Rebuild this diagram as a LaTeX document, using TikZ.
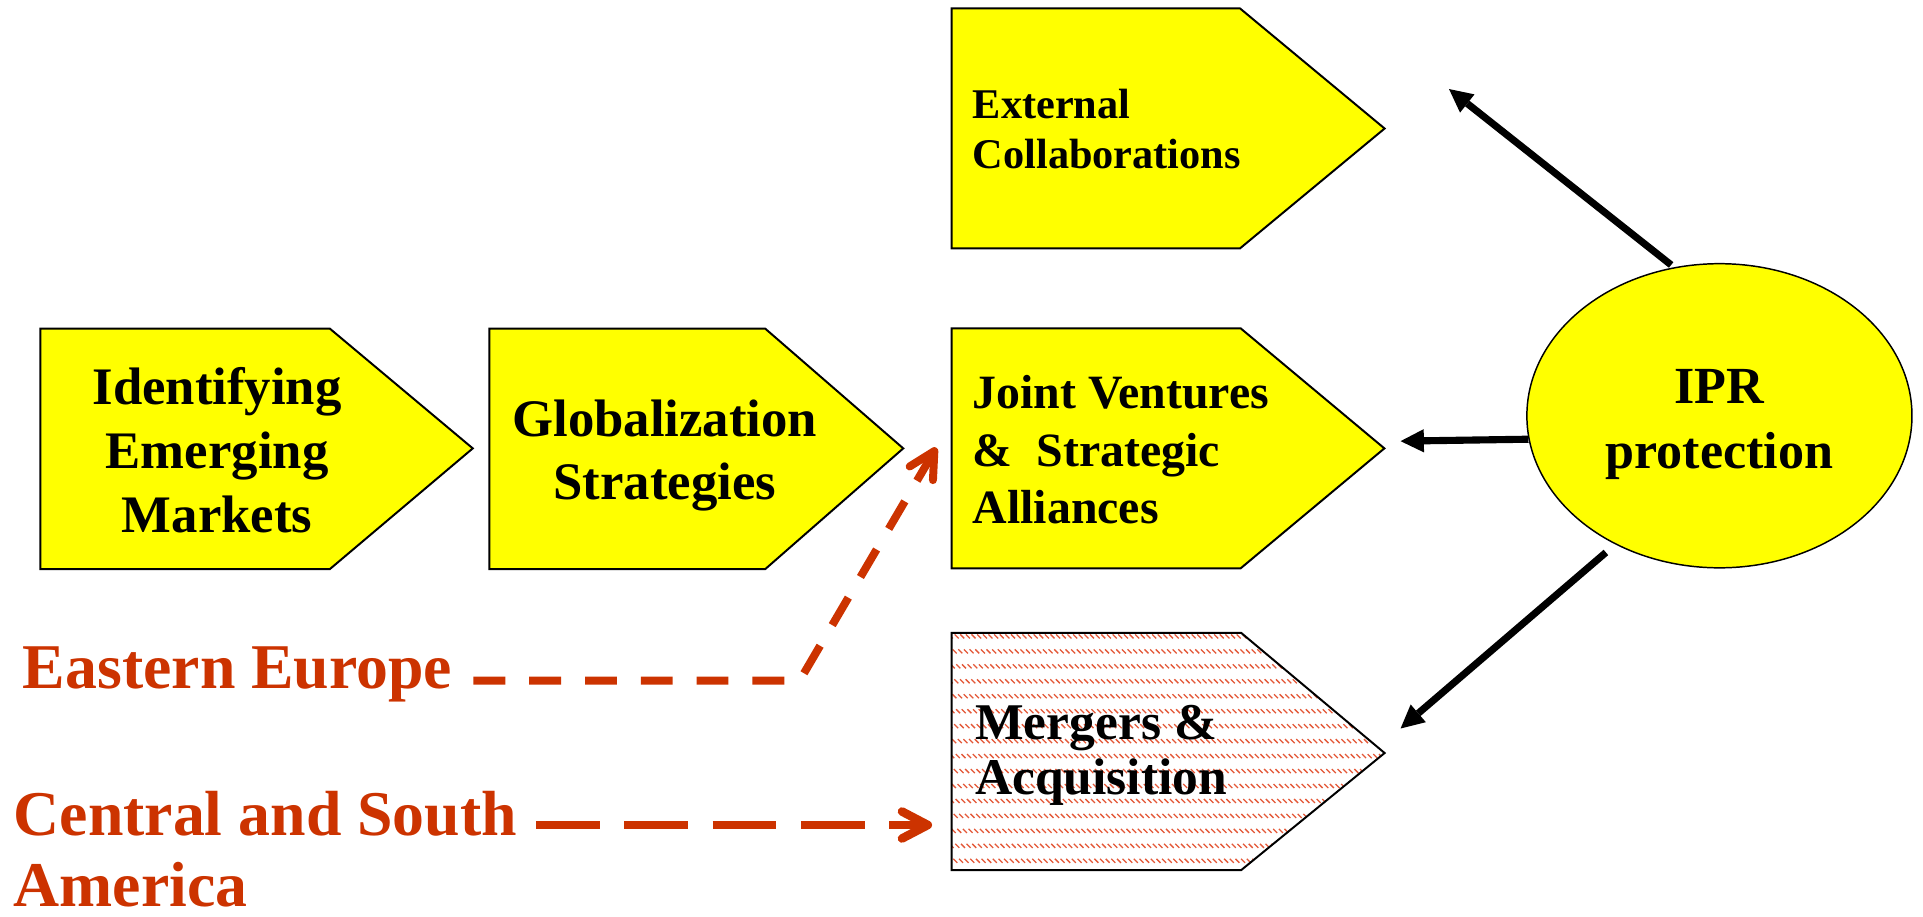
\documentclass[tikz,border=0pt]{standalone}
\usepackage{fontspec}
\setmainfont{Liberation Serif}
\usetikzlibrary{arrows.meta,shapes.geometric}

\definecolor{boxyellow}{RGB}{255,255,0}
\definecolor{regionred}{RGB}{204,51,0}
\definecolor{hatchred}{RGB}{228,88,56}

\newcommand\setfs[2]{\fontsize{#1}{#2}\selectfont}

\tikzset{
  chevbox/.style={draw=black, line width=1.6pt, fill=boxyellow, line join=miter},
  boxedge/.style={draw=black, line width=1.6pt, line join=miter},
  hatchline/.style={draw=hatchred, line width=1.05pt, dash pattern=on 4.6pt off 12.65pt},
  lbl/.style={inner sep=0pt, font=\bfseries},
  regionlbl/.style={inner sep=0pt, text=regionred, font=\bfseries\setfs{52}{60}},
  iprarrow/.style={draw=black, line width=5.8pt,
    -{Triangle[length=19pt,width=19pt,line width=0pt]}},
  regionarrow/.style={draw=regionred, line cap=butt,
    -{Straight Barb[length=21pt,width=22pt,round]}}
}

\begin{document}
\begin{tikzpicture}[x=1pt,y=-1pt]
\useasboundingbox (0,0) rectangle (1568,747);

% ---- chevron boxes ----
\draw[chevbox] (33,268) -- (269,268) -- (385.5,365.6) -- (269,464) -- (33,464) -- cycle;
\draw[chevbox] (399,268) -- (624,268) -- (736.5,365.6) -- (624,464) -- (399,464) -- cycle;
\draw[chevbox] (776,6.8) -- (1011,6.8) -- (1129,104.8) -- (1011,202.6) -- (776,202.6) -- cycle;
\draw[chevbox] (776,267.7) -- (1011.6,267.7) -- (1128.8,365.6) -- (1011.6,463.4) -- (776,463.4) -- cycle;

% hatched box
\path[fill=white] (776,516) -- (1012,516) -- (1129,614) -- (1012,709.5) -- (776,709.5) -- cycle;
\begin{scope}
  \clip (776,516) -- (1012,516) -- (1129,614) -- (1012,709.5) -- (776,709.5) -- cycle;
  \foreach \k in {0,...,122} {
    \draw[hatchline] ({576+4.6*\k},517.3) -- ++(200,200);
  }
\end{scope}
\draw[boxedge] (776,516) -- (1012,516) -- (1129,614) -- (1012,709.5) -- (776,709.5) -- cycle;

% ---- ellipse ----
\node[ellipse, draw=black, line width=1.2pt, fill=boxyellow,
      minimum width=314pt, minimum height=248pt, inner sep=0pt] (ipr) at (1402,339) {};

% ---- box texts ----
\node[lbl, anchor=base, font=\bfseries\setfs{43}{52}] (idA) at (177,330) {Identifying};
\node[lbl, anchor=base, font=\bfseries\setfs{43}{52}] (idB) at (177,382) {Emerging};
\node[lbl, anchor=base, font=\bfseries\setfs{43}{52}] (idC) at (177,434) {Markets};

\node[lbl, anchor=base, font=\bfseries\setfs{43}{52}] (glA) at (542,356) {Globalization};
\node[lbl, anchor=base, font=\bfseries\setfs{43}{52}] (glB) at (542,407.6) {Strategies};

\node[lbl, anchor=base west, font=\bfseries\setfs{34.5}{40}] (exA) at (793,97) {External};
\node[lbl, anchor=base west, font=\bfseries\setfs{34.5}{40}] (exB) at (793,137) {Collaborations};

\node[lbl, anchor=base west, font=\bfseries\setfs{39}{47}] (jvA) at (793,333) {Joint Ventures};
\node[lbl, anchor=base west, font=\bfseries\setfs{39}{47}] (jvB) at (793,380) {\&\ \ Strategic};
\node[lbl, anchor=base west, font=\bfseries\setfs{39}{47}] (jvC) at (793,427) {Alliances};

\node[lbl, anchor=base west, font=\bfseries\setfs{42}{45}] (maA) at (795,603) {Mergers \&};
\node[lbl, anchor=base west, font=\bfseries\setfs{42}{45}] (maB) at (795,648) {Acquisition};

\node[lbl, anchor=base, font=\bfseries\setfs{42.5}{53}] (iprA) at (1402,329) {IPR};
\node[lbl, anchor=base, font=\bfseries\setfs{42.5}{53}] (iprB) at (1402,382) {protection};

% ---- region labels ----
\node[regionlbl, anchor=base west] (ee) at (18.5,561) {Eastern Europe};
\node[regionlbl, anchor=base west] (csA) at (11,681.5) {Central and South};
\node[regionlbl, anchor=base west] (csB) at (11,739.5) {America};

% ---- arrows from IPR protection ----
\coordinate (extin) at (1181.5,72.6);
\coordinate (jvin) at (1142,359.7);
\coordinate (main) at (1142,594);
\draw[iprarrow, shorten <=3pt] (ipr.107.5) -- (extin);
\draw[iprarrow] (ipr.187.7) -- (jvin);
\draw[iprarrow, shorten <=10pt] (ipr.231.5) -- (main);

% ---- dashed region arrows ----
\coordinate (eestart) at (386,555);
\coordinate (eecorner) at (652,555);
\coordinate (eetip) at (763.5,365);
\draw[regionarrow, line width=6.5pt, dash pattern=on 26pt off 19.5pt]
  (eestart) -- (eecorner) -- (eetip);

\coordinate (csstart) at (437,672.7);
\coordinate (cstip) at (760,672.7);
\draw[regionarrow, line width=7pt, dash pattern=on 52pt off 20pt]
  (csstart) -- (cstip);
\end{tikzpicture}
\end{document}
